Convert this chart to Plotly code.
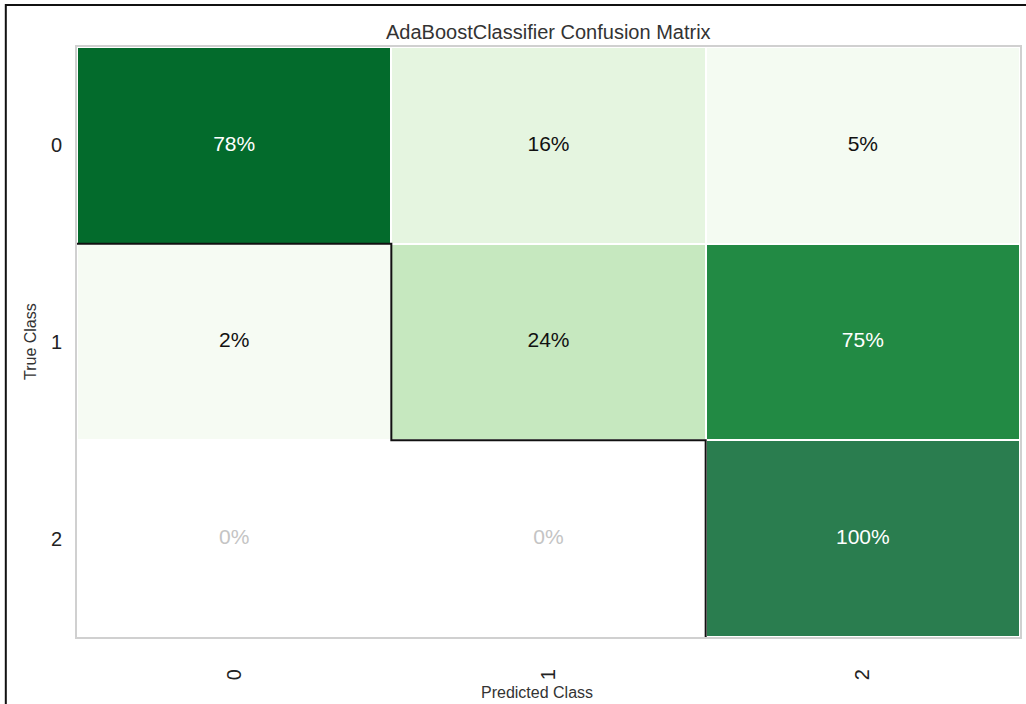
import plotly.graph_objects as go

# Confusion matrix (row-normalised, %), rows = true class, cols = predicted class
classes = [0, 1, 2]
class_labels = ["0", "1", "2"]
percent = [
    [78, 16, 5],
    [2, 24, 75],
    [0, 0, 100],
]
title = "AdaBoostClassifier Confusion Matrix"

FONT = "Liberation Sans, Arial, sans-serif"

# Greens-based scale: zero -> white, full 100% -> highlight colour
colorscale = [
    [0.000, "#ffffff"],
    [0.005, "#f7fcf5"],
    [0.020, "#f6fbf3"],
    [0.050, "#f4fbf2"],
    [0.160, "#e5f5e0"],
    [0.240, "#c6e8bf"],
    [0.750, "#228a44"],
    [0.780, "#036b2c"],
    [0.995, "#00441b"],
    [1.000, "#2a7d4f"],
]

n = len(classes)
xs, ys, texts, tcolors = [], [], [], []
for i, row in enumerate(percent):
    for j, v in enumerate(row):
        xs.append(classes[j])
        ys.append(classes[i])
        texts.append(f"{v}%")
        if v == 0:
            tcolors.append("#c4c4c4")
        elif v > 50:
            tcolors.append("#ffffff")
        else:
            tcolors.append("#111111")

fig = go.Figure()
fig.add_trace(go.Heatmap(
    x=classes, y=classes, z=percent,
    zmin=0, zmax=100, colorscale=colorscale,
    showscale=False, xgap=2, ygap=2, hoverinfo="skip",
))
fig.add_trace(go.Scatter(
    x=xs, y=ys, text=texts, mode="text",
    textfont=dict(family=FONT, size=21, color=tcolors),
    hoverinfo="skip", showlegend=False,
))

# Step outline along the lower-left edge of the diagonal cells
sx, sy = [], []
for k in range(n):
    sx.append(k - 0.5)
    sy.append(k + 0.5)
    if k < n - 1:
        sx.append(k + 0.5)
        sy.append(k + 0.5)
fig.add_trace(go.Scatter(
    x=sx, y=sy, mode="lines",
    line=dict(color="#111111", width=2),
    hoverinfo="skip", showlegend=False,
))

fig.update_layout(
    width=1026, height=704,
    margin=dict(l=77, r=4, t=47, b=67),
    paper_bgcolor="white", plot_bgcolor="white",
    font=dict(family=FONT, color="#333333"),
    showlegend=False,
    annotations=[
        dict(text=title, xref="paper", yref="paper", x=0.5, y=1.0,
             xanchor="center", yanchor="bottom", yshift=2, showarrow=False,
             font=dict(family=FONT, size=20, color="#333333")),
        dict(text="Predicted Class", xref="paper", yref="paper", x=0.488, y=0,
             xanchor="center", yanchor="middle", yshift=-55, showarrow=False,
             font=dict(family=FONT, size=16, color="#333333")),
        dict(text="True Class", xref="paper", yref="paper", x=0, y=0.5,
             xanchor="center", yanchor="middle", xshift=-47, textangle=-90,
             showarrow=False, font=dict(family=FONT, size=16, color="#333333")),
    ],
    shapes=[
        dict(type="rect", xref="paper", yref="paper",
             x0=-0.0755, x1=1.05, y0=-0.2, y1=1.0712,
             line=dict(color="#111111", width=2), layer="above"),
    ],
)
fig.update_xaxes(
    range=[-0.5, 2.5], tickvals=classes, ticktext=class_labels,
    tickangle=-90, ticks="", showgrid=False, zeroline=False,
    showline=True, mirror=True, linecolor="#d0d0d0", linewidth=2,
    tickfont=dict(family=FONT, size=20, color="#222222"),
    ticklabelstandoff=22,
)
fig.update_yaxes(
    range=[2.5, -0.5], tickvals=classes, ticktext=class_labels,
    ticks="", showgrid=False, zeroline=False,
    showline=True, mirror=True, linecolor="#d0d0d0", linewidth=2,
    tickfont=dict(family=FONT, size=20, color="#222222"),
    ticklabelstandoff=9,
)

fig.write_html("out.html")
